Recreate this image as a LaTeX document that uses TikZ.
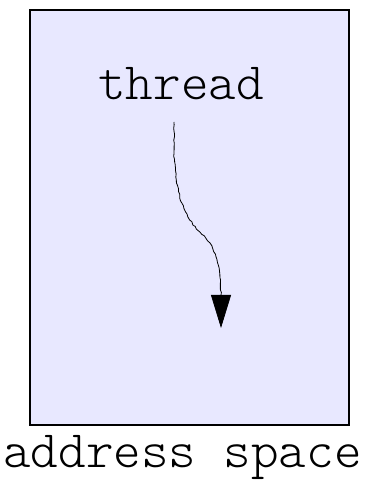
\documentclass[tikz,border=0pt]{standalone}
\usepackage{fontspec}
\setmonofont{lmmonolt10-regular.otf}
\usetikzlibrary{arrows.meta, positioning, decorations.pathmorphing}
\definecolor{spacefill}{HTML}{E8E8FF}

\begin{document}
\begin{tikzpicture}[x=1pt, y=1pt,
  label/.style={font=\fontsize{52.5}{56}\selectfont\ttfamily, inner sep=0pt, anchor=base},
  wiggle/.style={line width=0.8pt, decorate, decoration={random steps, segment length=3pt, amplitude=0.6pt}}]
  \pgfmathsetseed{7}
  \useasboundingbox (0,0) rectangle (375,490);
  % Address space
  \draw[line width=2pt, fill=spacefill] (30,65) rectangle (349,480);
  \node[label] (space) at (182.5,22) {address space};
  % Thread
  \node[label] (thread) at (181,390) {thread};
  \coordinate (start) at (174,368);
  \coordinate (bend) at (221,195);
  \coordinate (tip) at (221,162);
  \draw[wiggle] (start) -- ++(0,-31)
    .. controls (176,290) and (186,272) .. (200,258)
    .. controls (214,244) and (221,230) .. (bend);
  \draw[line width=0.8pt, -{Triangle[length=33pt, width=20pt]}] (bend) -- (tip);
\end{tikzpicture}
\end{document}
